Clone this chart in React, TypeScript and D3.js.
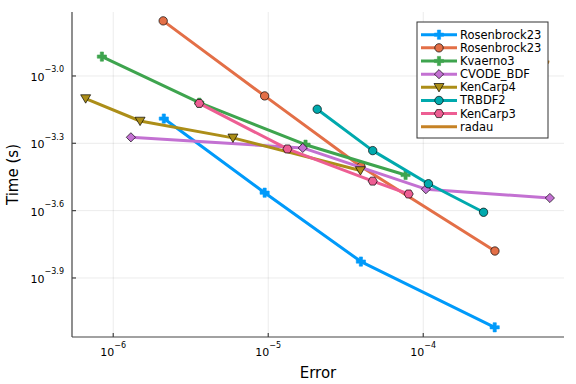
import React from 'react';
import * as d3 from 'd3';

// work-precision data (error, time in s)
const rosenbrockErr = [2.12e-6, 9.48e-6, 3.96e-5, 2.89e-4];
const rosenbrockTime = [6.46e-4, 3.02e-4, 1.49e-4, 7.59e-5];
const rosenbrock2Err = [2.1e-6, 9.48e-6, 3.96e-5, 2.9e-4];
const rosenbrock2Time = [1.76e-3, 8.15e-4, 3.95e-4, 1.66e-4];
const kvaernoErr = [8.45e-7, 3.59e-6, 1.74e-5, 7.69e-5];
const kvaernoTime = [1.22e-3, 7.6e-4, 4.94e-4, 3.62e-4];
const cvodeErr = [1.3e-6, 1.67e-5, 1.04e-4, 6.56e-4];
const cvodeTime = [5.33e-4, 4.78e-4, 3.13e-4, 2.86e-4];
const kencarp4Err = [6.64e-7, 1.49e-6, 5.92e-6, 3.93e-5];
const kencarp4Time = [7.93e-4, 6.3e-4, 5.3e-4, 3.79e-4];
const trbdf2Err = [2.07e-5, 4.72e-5, 1.08e-4, 2.45e-4];
const trbdf2Time = [7.11e-4, 4.65e-4, 3.31e-4, 2.47e-4];
const kencarp3Err = [3.59e-6, 1.33e-5, 4.72e-5, 8.05e-5];
const kencarp3Time = [7.55e-4, 4.73e-4, 3.4e-4, 2.98e-4];
const radauErr = [1.05e-4, 2.6e-4, 6.5e-4];
const radauTime = [1.55e-3, 1.3e-3, 1.15e-3];

const xTicks = [-6, -5, -4];
const yTicks = ['-3.0', '-3.3', '-3.6', '-3.9'];

type Shape = 'cross' | 'circle' | 'diamond' | 'dtriangle' | 'hexagon' | 'none';

const series: { name: string; err: number[]; time: number[]; color: string; shape: Shape }[] = [
    { name: 'Rosenbrock23', err: rosenbrockErr, time: rosenbrockTime, color: '#009AFA', shape: 'cross' },
    { name: 'Rosenbrock23', err: rosenbrock2Err, time: rosenbrock2Time, color: '#E36F47', shape: 'circle' },
    { name: 'Kvaerno3', err: kvaernoErr, time: kvaernoTime, color: '#3EA44E', shape: 'cross' },
    { name: 'CVODE_BDF', err: cvodeErr, time: cvodeTime, color: '#C371D2', shape: 'diamond' },
    { name: 'KenCarp4', err: kencarp4Err, time: kencarp4Time, color: '#AC8E18', shape: 'dtriangle' },
    { name: 'TRBDF2', err: trbdf2Err, time: trbdf2Time, color: '#00A9AD', shape: 'circle' },
    { name: 'KenCarp3', err: kencarp3Err, time: kencarp3Time, color: '#ED5E93', shape: 'hexagon' },
    { name: 'radau', err: radauErr, time: radauTime, color: '#C68225', shape: 'none' },
];

const W = 576;
const H = 384;
const margin = { left: 72, right: 12, top: 12, bottom: 47 };
const font = 'DejaVu Sans, sans-serif';

function markerPath(shape: Shape, cx: number, cy: number): string {
    if (shape === 'circle') {
        const r = 4.2;
        return `M${cx + r},${cy}A${r},${r} 0 1,1 ${cx - r},${cy}A${r},${r} 0 1,1 ${cx + r},${cy}Z`;
    }
    if (shape === 'diamond') {
        const r = 4.6;
        return `M${cx},${cy - r}L${cx + r},${cy}L${cx},${cy + r}L${cx - r},${cy}Z`;
    }
    if (shape === 'dtriangle') {
        return `M${cx - 5},${cy - 3.8}L${cx + 5},${cy - 3.8}L${cx},${cy + 4.6}Z`;
    }
    if (shape === 'hexagon') {
        const pts = d3.range(6).map((i) => {
            const a = (Math.PI / 3) * i;
            return [cx + 4.6 * Math.cos(a), cy + 4.6 * Math.sin(a)];
        });
        return 'M' + pts.map((p) => p.join(',')).join('L') + 'Z';
    }
    if (shape === 'cross') {
        const a = 4.6;
        const b = 1.6;
        return (
            `M${cx - b},${cy - a}L${cx + b},${cy - a}L${cx + b},${cy - b}L${cx + a},${cy - b}` +
            `L${cx + a},${cy + b}L${cx + b},${cy + b}L${cx + b},${cy + a}L${cx - b},${cy + a}` +
            `L${cx - b},${cy + b}L${cx - a},${cy + b}L${cx - a},${cy - b}L${cx - b},${cy - b}Z`
        );
    }
    return '';
}

const Marker: React.FC<{ shape: Shape; x: number; y: number; color: string }> = ({ shape, x, y, color }) => {
    if (shape === 'none') return null;
    const cross = shape === 'cross';
    return (
        <path
            d={markerPath(shape, x, y)}
            fill={color}
            stroke={cross ? color : '#000'}
            strokeOpacity={cross ? 1 : 0.85}
            strokeWidth={cross ? 0.6 : 0.8}
        />
    );
};

const App: React.FC = () => {
    const x = d3
        .scaleLog()
        .domain([Math.pow(10, -6.266), Math.pow(10, -3.092)])
        .range([margin.left, W - margin.right]);
    const y = d3
        .scaleLog()
        .domain([Math.pow(10, -4.163), Math.pow(10, -2.715)])
        .range([H - margin.bottom, margin.top]);

    const line = d3
        .line<[number, number]>()
        .x((d) => x(d[0]))
        .y((d) => y(d[1]));

    const x0 = margin.left;
    const x1 = W - margin.right;
    const y0 = H - margin.bottom;
    const y1 = margin.top;

    // legend
    const lgX = 417;
    const lgY = 22;
    const lgW = 131;
    const lgH = 116;
    const rowH = 13.15;

    return (
        <svg width={W} height={H} style={{ position: 'absolute', left: 0, top: 0, background: '#fff' }}>
            <rect x={0} y={0} width={W} height={H} fill="#fff" />
            {/* grid */}
            <g stroke="#000" strokeOpacity={0.08} strokeWidth={1}>
                {xTicks.map((t) => (
                    <line key={'gx' + t} x1={x(Math.pow(10, t))} x2={x(Math.pow(10, t))} y1={y0} y2={y1} />
                ))}
                {yTicks.map((t) => (
                    <line key={'gy' + t} x1={x0} x2={x1} y1={y(Math.pow(10, +t))} y2={y(Math.pow(10, +t))} />
                ))}
            </g>

            {/* series */}
            {series.map((s, i) => {
                const pts = s.err.map((e, j) => [e, s.time[j]] as [number, number]);
                return (
                    <g key={i}>
                        <path d={line(pts) || ''} fill="none" stroke={s.color} strokeWidth={3} strokeLinejoin="round" />
                        {pts.map((p, j) => (
                            <Marker key={j} shape={s.shape} x={x(p[0])} y={y(p[1])} color={s.color} />
                        ))}
                    </g>
                );
            })}

            {/* axes */}
            <g stroke="#444" strokeWidth={1.2}>
                <line x1={x0} x2={x1} y1={y0} y2={y0} />
                <line x1={x0} x2={x0} y1={y0} y2={y1} />
                {xTicks.map((t) => (
                    <line key={'tx' + t} x1={x(Math.pow(10, t))} x2={x(Math.pow(10, t))} y1={y0} y2={y0 - 4} />
                ))}
                {yTicks.map((t) => (
                    <line key={'ty' + t} x1={x0} x2={x0 + 4} y1={y(Math.pow(10, +t))} y2={y(Math.pow(10, +t))} />
                ))}
            </g>

            {/* tick labels */}
            <g fontFamily={font} fill="#000">
                {xTicks.map((t) => (
                    <text key={'lx' + t} x={x(Math.pow(10, t))} y={y0 + 19} textAnchor="middle" fontSize={11}>
                        10
                        <tspan fontSize={8} dy={-8}>
                            {'\u2212' + Math.abs(t)}
                        </tspan>
                    </text>
                ))}
                {yTicks.map((t) => (
                    <text key={'ly' + t} x={x0 - 8} y={y(Math.pow(10, +t)) + 5} textAnchor="end" fontSize={11}>
                        10
                        <tspan fontSize={8} dy={-8.5}>
                            {'\u2212' + t.slice(1)}
                        </tspan>
                    </text>
                ))}
            </g>

            {/* axis titles */}
            <text x={(x0 + x1) / 2} y={378} textAnchor="middle" fontFamily={font} fontSize={15}>
                Error
            </text>
            <text
                transform={`translate(18, ${(y0 + y1) / 2}) rotate(-90)`}
                textAnchor="middle"
                fontFamily={font}
                fontSize={15}
            >
                Time (s)
            </text>

            {/* legend */}
            <rect x={lgX} y={lgY} width={lgW} height={lgH} fill="#fff" stroke="#333" strokeWidth={1} />
            {series.map((s, i) => {
                const cy = lgY + 12.7 + i * rowH;
                return (
                    <g key={'lg' + i}>
                        <line x1={lgX + 4} x2={lgX + 40} y1={cy} y2={cy} stroke={s.color} strokeWidth={3} />
                        <Marker shape={s.shape} x={lgX + 22} y={cy} color={s.color} />
                        <text x={lgX + 43} y={cy + 4} fontFamily={font} fontSize={11.5}>
                            {s.name}
                        </text>
                    </g>
                );
            })}
        </svg>
    );
};

export default App;
